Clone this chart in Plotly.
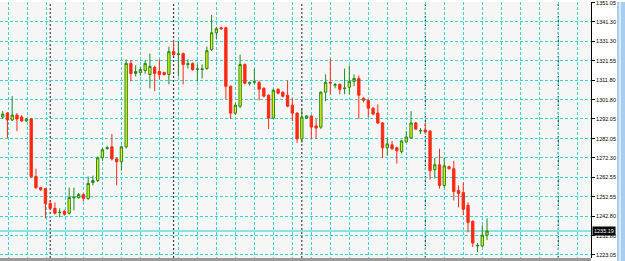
import plotly.graph_objects as go

opens = [1293.0, 1295.0, 1291.5, 1294.0, 1293.0, 1291.0, 1292.0, 1262.8, 1257.2, 1256.7,
         1249.2, 1246.7, 1244.5, 1245.2, 1244.2, 1252.0, 1252.2, 1253.7, 1251.7, 1259.8,
         1260.8, 1272.3, 1277.0, 1277.9, 1271.8, 1270.3, 1277.9, 1320.2, 1315.1, 1315.6,
         1316.6, 1314.6, 1318.2, 1316.1, 1315.6, 1314.6, 1326.2, 1324.7, 1325.2, 1319.7,
         1320.2, 1317.1, 1317.1, 1317.6, 1327.2, 1335.8, 1338.3, 1338.3, 1308.6, 1295.0,
         1298.5, 1319.7, 1310.1, 1310.6, 1310.6, 1307.6, 1304.1, 1292.5, 1307.1, 1305.6,
         1304.1, 1299.0, 1295.0, 1281.9, 1292.5, 1293.5, 1288.5, 1287.9, 1305.6, 1310.6,
         1309.1, 1309.6, 1307.4, 1308.1, 1311.1, 1312.6, 1302.5, 1301.5, 1297.5, 1295.0,
         1290.0, 1277.4, 1278.9, 1277.4, 1275.4, 1280.4, 1282.4, 1290.0, 1285.9, 1286.4,
         1285.9, 1266.3, 1268.8, 1258.3, 1267.8, 1266.8, 1255.7, 1254.7, 1248.2, 1240.1,
         1227.6, 1227.6, 1233.1]
highs = [1296.0, 1295.5, 1303.6, 1295.0, 1294.0, 1292.5, 1292.5, 1266.8, 1257.5, 1257.0,
         1250.7, 1249.7, 1246.7, 1246.0, 1257.2, 1257.2, 1254.5, 1254.2, 1262.8, 1263.3,
         1273.0, 1277.4, 1278.4, 1284.4, 1272.3, 1278.5, 1322.2, 1322.0, 1319.2, 1318.6,
         1321.7, 1325.2, 1319.0, 1322.2, 1316.0, 1328.7, 1332.2, 1331.7, 1325.7, 1322.2,
         1320.7, 1319.7, 1319.7, 1328.7, 1344.8, 1338.8, 1338.8, 1338.8, 1309.0, 1300.0,
         1324.7, 1320.2, 1311.0, 1317.6, 1311.5, 1308.0, 1304.5, 1307.5, 1307.5, 1306.0,
         1311.6, 1302.5, 1295.5, 1297.0, 1294.0, 1294.0, 1292.0, 1306.0, 1314.6, 1322.7,
         1310.3, 1310.0, 1317.6, 1319.2, 1314.6, 1314.1, 1303.0, 1302.0, 1298.0, 1299.5,
         1290.5, 1282.4, 1280.9, 1278.0, 1281.5, 1285.9, 1296.0, 1290.5, 1287.4, 1290.0,
         1286.4, 1272.3, 1276.9, 1272.3, 1268.3, 1270.8, 1258.3, 1259.8, 1249.7, 1240.6,
         1229.1, 1238.1, 1241.6]
lows = [1292.0, 1282.4, 1291.0, 1285.9, 1290.5, 1290.5, 1262.0, 1256.5, 1255.5, 1241.6,
        1246.0, 1243.5, 1242.2, 1243.0, 1243.5, 1245.7, 1251.5, 1250.2, 1251.0, 1258.3,
        1260.0, 1270.8, 1276.4, 1271.0, 1258.3, 1265.8, 1277.0, 1311.1, 1313.6, 1314.0,
        1315.0, 1307.6, 1306.1, 1312.1, 1314.0, 1309.6, 1324.0, 1313.6, 1309.6, 1317.6,
        1316.5, 1311.1, 1312.6, 1317.0, 1326.5, 1332.7, 1337.3, 1302.0, 1292.0, 1294.0,
        1297.5, 1309.6, 1309.0, 1309.6, 1301.5, 1303.0, 1286.9, 1292.0, 1304.5, 1303.0,
        1298.0, 1291.0, 1279.9, 1280.0, 1292.0, 1281.9, 1281.9, 1287.0, 1301.0, 1304.6,
        1307.6, 1304.6, 1304.6, 1304.6, 1308.6, 1292.0, 1300.5, 1293.0, 1294.0, 1289.5,
        1272.3, 1273.4, 1276.4, 1269.3, 1274.5, 1280.0, 1282.0, 1286.4, 1284.4, 1285.0,
        1261.3, 1261.8, 1256.7, 1257.2, 1266.3, 1250.7, 1247.2, 1243.2, 1234.6, 1227.1,
        1224.5, 1227.1, 1230.6]
closes = [1294.5, 1291.5, 1294.0, 1292.0, 1291.0, 1292.0, 1262.8, 1257.2, 1256.2, 1249.2,
          1246.7, 1244.2, 1244.7, 1243.7, 1252.2, 1252.3, 1253.7, 1251.7, 1259.3, 1260.8,
          1272.3, 1276.4, 1277.4, 1271.8, 1270.3, 1277.9, 1320.2, 1315.1, 1316.1, 1317.1,
          1320.2, 1318.7, 1315.1, 1314.6, 1314.6, 1326.2, 1324.7, 1325.0, 1319.7, 1320.0,
          1317.1, 1317.4, 1317.4, 1326.7, 1335.8, 1337.8, 1337.8, 1308.6, 1295.0, 1299.0,
          1319.7, 1310.1, 1310.4, 1310.9, 1307.1, 1303.6, 1292.5, 1306.6, 1305.1, 1303.6,
          1298.5, 1295.0, 1281.9, 1293.0, 1293.5, 1287.9, 1287.4, 1305.6, 1310.6, 1310.3,
          1309.4, 1307.1, 1307.7, 1311.1, 1312.6, 1304.1, 1301.5, 1297.5, 1294.5, 1290.0,
          1277.4, 1279.4, 1276.9, 1275.9, 1280.9, 1282.9, 1290.0, 1286.9, 1286.2, 1285.4,
          1265.8, 1268.8, 1258.3, 1268.3, 1266.8, 1255.2, 1254.2, 1246.2, 1239.6, 1229.1,
          1227.9, 1233.1, 1235.19]
bars = list(range(len(opens)))

price_ticks = [1351.05, 1341.30, 1331.30, 1321.55, 1311.80, 1301.80, 1292.05,
               1282.05, 1272.30, 1262.55, 1252.55, 1242.80, 1232.80, 1223.05]
price_labels = [f"{v:.2f}" for v in price_ticks]
day_separators = [10, 36, 63, 89, 117]
last_price = 1235.19

CYAN = "#3ad4d4"

fig = go.Figure()
fig.add_trace(go.Candlestick(
    x=bars, open=opens, high=highs, low=lows, close=closes,
    increasing=dict(line=dict(color="#1f8a1f", width=1), fillcolor="#f2f200"),
    decreasing=dict(line=dict(color="#ff2a14", width=1), fillcolor="#ff2a14"),
    whiskerwidth=0, hoverinfo="skip", showlegend=False,
))

shapes = []
for d in day_separators:
    shapes.append(dict(type="line", xref="x", yref="paper", x0=d, x1=d, y0=0, y1=1,
                       line=dict(color="#1a1a1a", width=1, dash="2px,2px"), layer="below"))
shapes.append(dict(type="line", xref="paper", yref="y", x0=0, x1=1, y0=last_price, y1=last_price,
                   line=dict(color="#22cccc", width=1), layer="below"))
# bottom gray strip
shapes.append(dict(type="rect", xref="paper", yref="paper", x0=0, x1=1, y0=-3/258, y1=0,
                   fillcolor="#9a9a9a", line=dict(width=0)))
# right blue bar
shapes.append(dict(type="rect", xref="paper", yref="paper", x0=617/591, x1=626/591, y0=-3/258, y1=1.0,
                   fillcolor="#a9cdf0", line=dict(width=0)))
shapes.append(dict(type="rect", xref="paper", yref="paper", x0=619/591, x1=621/591, y0=-3/258, y1=1.0,
                   fillcolor="#d8eaf8", line=dict(width=0)))

fig.update_layout(
    width=625, height=261,
    margin=dict(l=0, r=34, t=0, b=3),
    paper_bgcolor="#ffffff",
    plot_bgcolor="#f6f6f6",
    boxgap=0.3,
    shapes=shapes,
    font=dict(family="Liberation Sans, Arial, sans-serif", size=6, color="#000000"),
    xaxis=dict(
        range=[-0.57, 123.9], rangeslider=dict(visible=False),
        showgrid=True, gridcolor=CYAN, griddash="3px,2px", gridwidth=1,
        tick0=1.12, dtick=4, showticklabels=False, ticks="", zeroline=False,
        showline=False,
    ),
    yaxis=dict(
        side="right", range=[1221.5, 1351.37],
        tickvals=price_ticks, ticktext=price_labels,
        showgrid=True, gridcolor=CYAN, griddash="3px,2px", gridwidth=1,
        ticks="outside", ticklen=3, tickcolor="#000000", tickwidth=1,
        showline=True, linecolor="#000000", linewidth=1,
        ticklabeloverflow="allow",
        tickfont=dict(size=5.5, color="#000000"), zeroline=False,
    ),
    annotations=[dict(
        xref="paper", yref="y", x=1, y=last_price, xanchor="left", yanchor="middle",
        xshift=1, text=f"{last_price:.2f}", showarrow=False,
        font=dict(size=5.5, color="#ffffff"), bgcolor="#000000", borderpad=1,
    )],
)

fig.write_html("out.html")
